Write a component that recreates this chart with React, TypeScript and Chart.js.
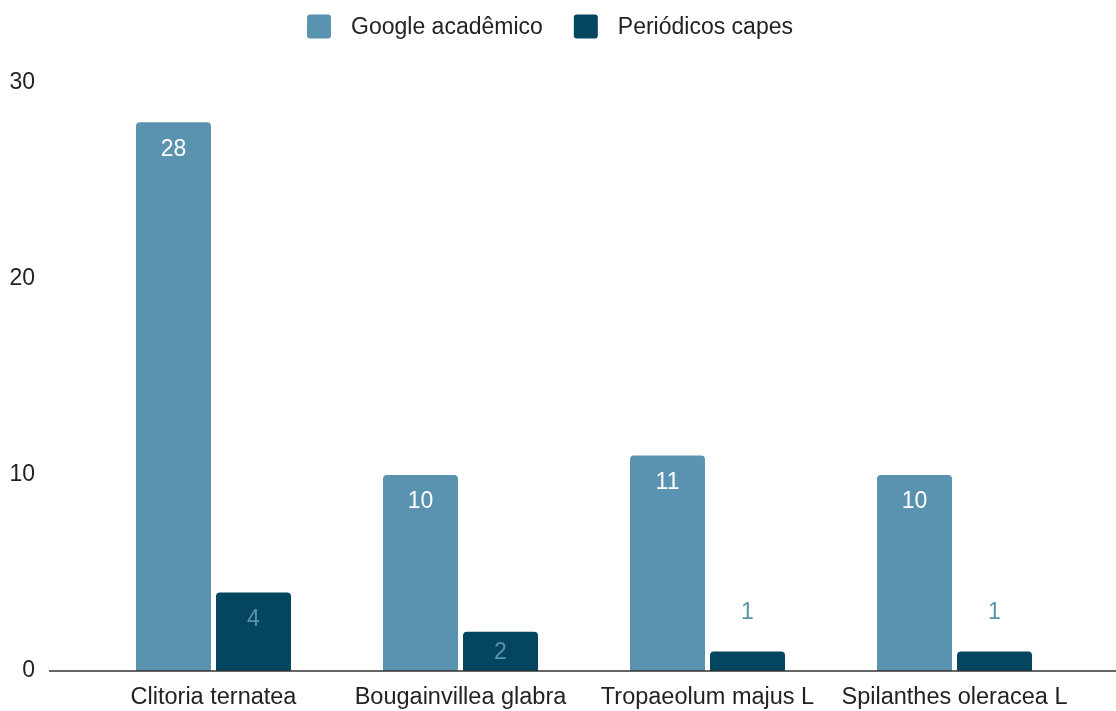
import React, { useEffect, useRef } from "react";
import { Chart, registerables } from "chart.js";

Chart.register(...registerables);

const categories = ["Clitoria ternatea", "Bougainvillea glabra", "Tropaeolum majus L", "Spilanthes oleracea L"];
const googleValues = [28, 10, 11, 10];
const capesValues = [4, 2, 1, 1];
const seriesNames = ["Google acadêmico", "Periódicos capes"];
const yTicks = [0, 10, 20, 30];

const FONT = "'Liberation Sans', Arial, sans-serif";
const C1 = "#5a93b0";
const C2 = "#04465f";
const TEXT = "#222222";

function roundRect(ctx: CanvasRenderingContext2D, x: number, y: number, w: number, h: number, r: number) {
  ctx.beginPath();
  ctx.moveTo(x + r, y);
  ctx.lineTo(x + w - r, y);
  ctx.arcTo(x + w, y, x + w, y + r, r);
  ctx.lineTo(x + w, y + h - r);
  ctx.arcTo(x + w, y + h, x + w - r, y + h, r);
  ctx.lineTo(x + r, y + h);
  ctx.arcTo(x, y + h, x, y + h - r, r);
  ctx.lineTo(x, y + r);
  ctx.arcTo(x, y, x + r, y, r);
  ctx.closePath();
}

const legendPlugin = {
  id: "customLegend",
  afterDraw(chart: any) {
    const ctx = chart.ctx as CanvasRenderingContext2D;
    ctx.save();
    ctx.font = `23px ${FONT}`;
    const box = 24;
    const gapText = 20;
    const gapItem = 31;
    const items = chart.data.datasets.map((ds: any) => ({
      text: ds.label,
      color: ds.backgroundColor,
      w: box + gapText + ctx.measureText(ds.label).width,
    }));
    const total = items.reduce((s: number, it: any) => s + it.w, 0) + gapItem * (items.length - 1);
    let x = 550 - total / 2;
    const cy = 26.5;
    ctx.textBaseline = "middle";
    ctx.textAlign = "left";
    items.forEach((it: any) => {
      ctx.fillStyle = it.color;
      roundRect(ctx, x, cy - box / 2, box, box, 3);
      ctx.fill();
      ctx.fillStyle = TEXT;
      ctx.fillText(it.text, x + box + gapText, cy + 1);
      x += it.w + gapItem;
    });
    ctx.restore();
  },
};

const labelPlugin = {
  id: "barLabels",
  afterDatasetsDraw(chart: any) {
    const ctx = chart.ctx;
    const area = chart.chartArea;
    ctx.save();
    ctx.strokeStyle = "#333333";
    ctx.lineWidth = 1.5;
    ctx.beginPath();
    ctx.moveTo(49, area.bottom);
    ctx.lineTo(chart.width, area.bottom);
    ctx.stroke();
    ctx.font = `23px ${FONT}`;
    ctx.textAlign = "center";
    ctx.textBaseline = "middle";
    chart.data.datasets.forEach((ds: any, di: number) => {
      const meta = chart.getDatasetMeta(di);
      meta.data.forEach((bar: any, i: number) => {
        const v = ds.data[i];
        const h = bar.base - bar.y;
        let y;
        if (h >= 52) y = bar.y + 27;
        else if (h >= 30) y = (bar.y + bar.base) / 2 + 1;
        else y = bar.y - 39;
        ctx.fillStyle = di === 0 ? "#ffffff" : C1;
        ctx.fillText(String(v), bar.x, y);
      });
    });
    ctx.restore();
  },
};

export default function App() {
  const ref = useRef<HTMLCanvasElement>(null);
  useEffect(() => {
    const chart = new Chart(ref.current!, {
      type: "bar",
      data: {
        labels: categories,
        datasets: [
          {
            label: seriesNames[0],
            data: googleValues,
            backgroundColor: C1,
            borderRadius: { topLeft: 4, topRight: 4, bottomLeft: 0, bottomRight: 0 },
            borderSkipped: "bottom",
            barPercentage: 0.9375,
            categoryPercentage: 0.648,
          },
          {
            label: seriesNames[1],
            data: capesValues,
            backgroundColor: C2,
            borderRadius: { topLeft: 4, topRight: 4, bottomLeft: 0, bottomRight: 0 },
            borderSkipped: "bottom",
            barPercentage: 0.9375,
            categoryPercentage: 0.648,
          },
        ],
      },
      options: {
        responsive: true,
        maintainAspectRatio: false,
        animation: false,
        layout: { padding: { left: 10, right: 38, top: 83, bottom: 0 } },
        plugins: {
          tooltip: { enabled: false },
          legend: { display: false },
        },
        scales: {
          x: {
            afterFit: (s: any) => {
              s.height = 40;
            },
            grid: { display: false, drawTicks: false },
            border: { display: false },
            ticks: { color: TEXT, font: { family: FONT, size: 23.5 }, padding: 12, maxRotation: 0, autoSkip: false },
          },
          y: {
            min: 0,
            max: 30,
            afterBuildTicks: (s: any) => {
              s.ticks = yTicks.map((v) => ({ value: v }));
            },
            afterFit: (s: any) => {
              s.width = 80;
              s.paddingTop = 0;
              s.paddingBottom = 0;
            },
            grid: { display: false, drawTicks: false },
            border: { display: false },
            ticks: { color: TEXT, font: { family: FONT, size: 23 }, padding: 55 },
          },
        },
      },
      plugins: [labelPlugin, legendPlugin],
    });
    return () => chart.destroy();
  }, []);
  return (
    <div style={{ position: "fixed", left: 0, top: 0, width: 1116, height: 711, background: "#fff" }}>
      <canvas ref={ref} style={{ display: "block" }} />
    </div>
  );
}
